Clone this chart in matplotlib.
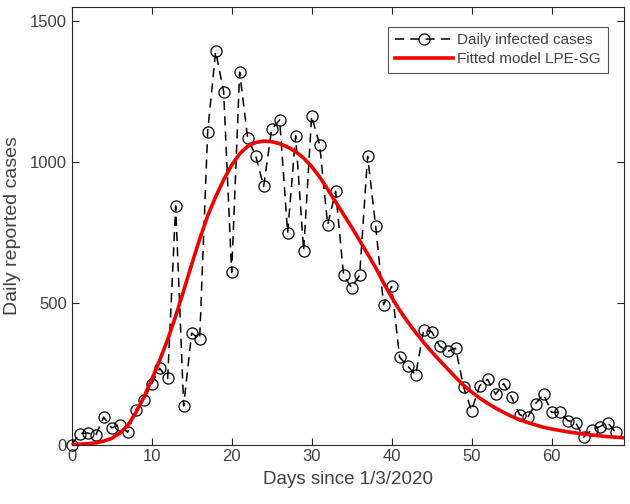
import matplotlib
matplotlib.use('Agg')
import matplotlib.pyplot as plt

plt.rcParams['font.family'] = ['Liberation Sans', 'DejaVu Sans']

# days since 1/3/2020
days = list(range(69))
fit_days = list(range(70))

daily_cases = [
    0, 39, 41, 32, 97, 59, 70, 43, 123, 156,
    215, 270, 234, 845, 137, 395, 374, 1109, 1393, 1250,
    610, 1319, 1086, 1024, 915, 1117, 1150, 750, 1094, 687,
    1164, 1062, 779, 897, 599, 556, 600, 1021, 775, 495,
    560, 309, 278, 246, 405, 400, 349, 330, 341, 204,
    120, 208, 231, 178, 216, 167, 106, 96, 145, 178,
    114, 114, 85, 78, 26, 52, 63, 78, 43,
]

fitted_lpe_sg = [
    0, 1, 3, 6, 12, 22, 40, 67, 112, 166,
    230, 298, 372, 455, 545, 638, 728, 810, 878, 938,
    990, 1030, 1057, 1070, 1075, 1073, 1066, 1054, 1038, 1015,
    985, 948, 905, 860, 815, 770, 723, 675, 627, 572,
    522, 476, 435, 397, 362, 329, 298, 268, 238, 210,
    186, 165, 146, 129, 114, 100, 88, 78, 69, 61,
    55, 50, 45, 41, 37, 34, 31, 28, 26, 24,
]

AXIS_COL = '#262626'
TEXT_COL = '#404040'

fig = plt.figure(figsize=(6.3, 5.04), dpi=100)
ax = fig.add_axes([0.1138, 0.118, 0.876, 0.868])

ax.plot(days, daily_cases, linestyle=(0, (6, 4)), color='black', linewidth=1.1,
        marker='o', markersize=8, markerfacecolor='none', markeredgecolor='black',
        markeredgewidth=0.9, clip_on=False, zorder=3, label='Daily infected cases')
ax.plot(fit_days, fitted_lpe_sg, color='#ee0000', linewidth=2.6, zorder=4,
        label='Fitted model LPE-SG')

ax.set_xlim(0, 69)
ax.set_ylim(0, 1550)
ax.set_xticks([0, 10, 20, 30, 40, 50, 60])
ax.set_yticks([0, 500, 1000, 1500])

ax.tick_params(direction='in', length=5, width=0.8, colors=AXIS_COL,
               labelcolor=TEXT_COL, labelsize=12, top=True, right=True)
for s in ax.spines.values():
    s.set_color(AXIS_COL)
    s.set_linewidth(0.8)

ax.set_xlabel('Days since 1/3/2020', fontsize=13.5, color=TEXT_COL, labelpad=5)
ax.set_ylabel('Daily reported cases', fontsize=14, color=TEXT_COL, labelpad=6)

leg = ax.legend(loc='upper right', bbox_to_anchor=(0.9855, 0.973), fontsize=11,
                frameon=True, fancybox=False, handlelength=3.8,
                borderpad=0.45, labelspacing=0.3, handletextpad=0.3)
leg.get_frame().set_edgecolor(AXIS_COL)
leg.get_frame().set_linewidth(0.8)
for t in leg.get_texts():
    t.set_color(TEXT_COL)

fig.savefig('out.png', dpi=100)
